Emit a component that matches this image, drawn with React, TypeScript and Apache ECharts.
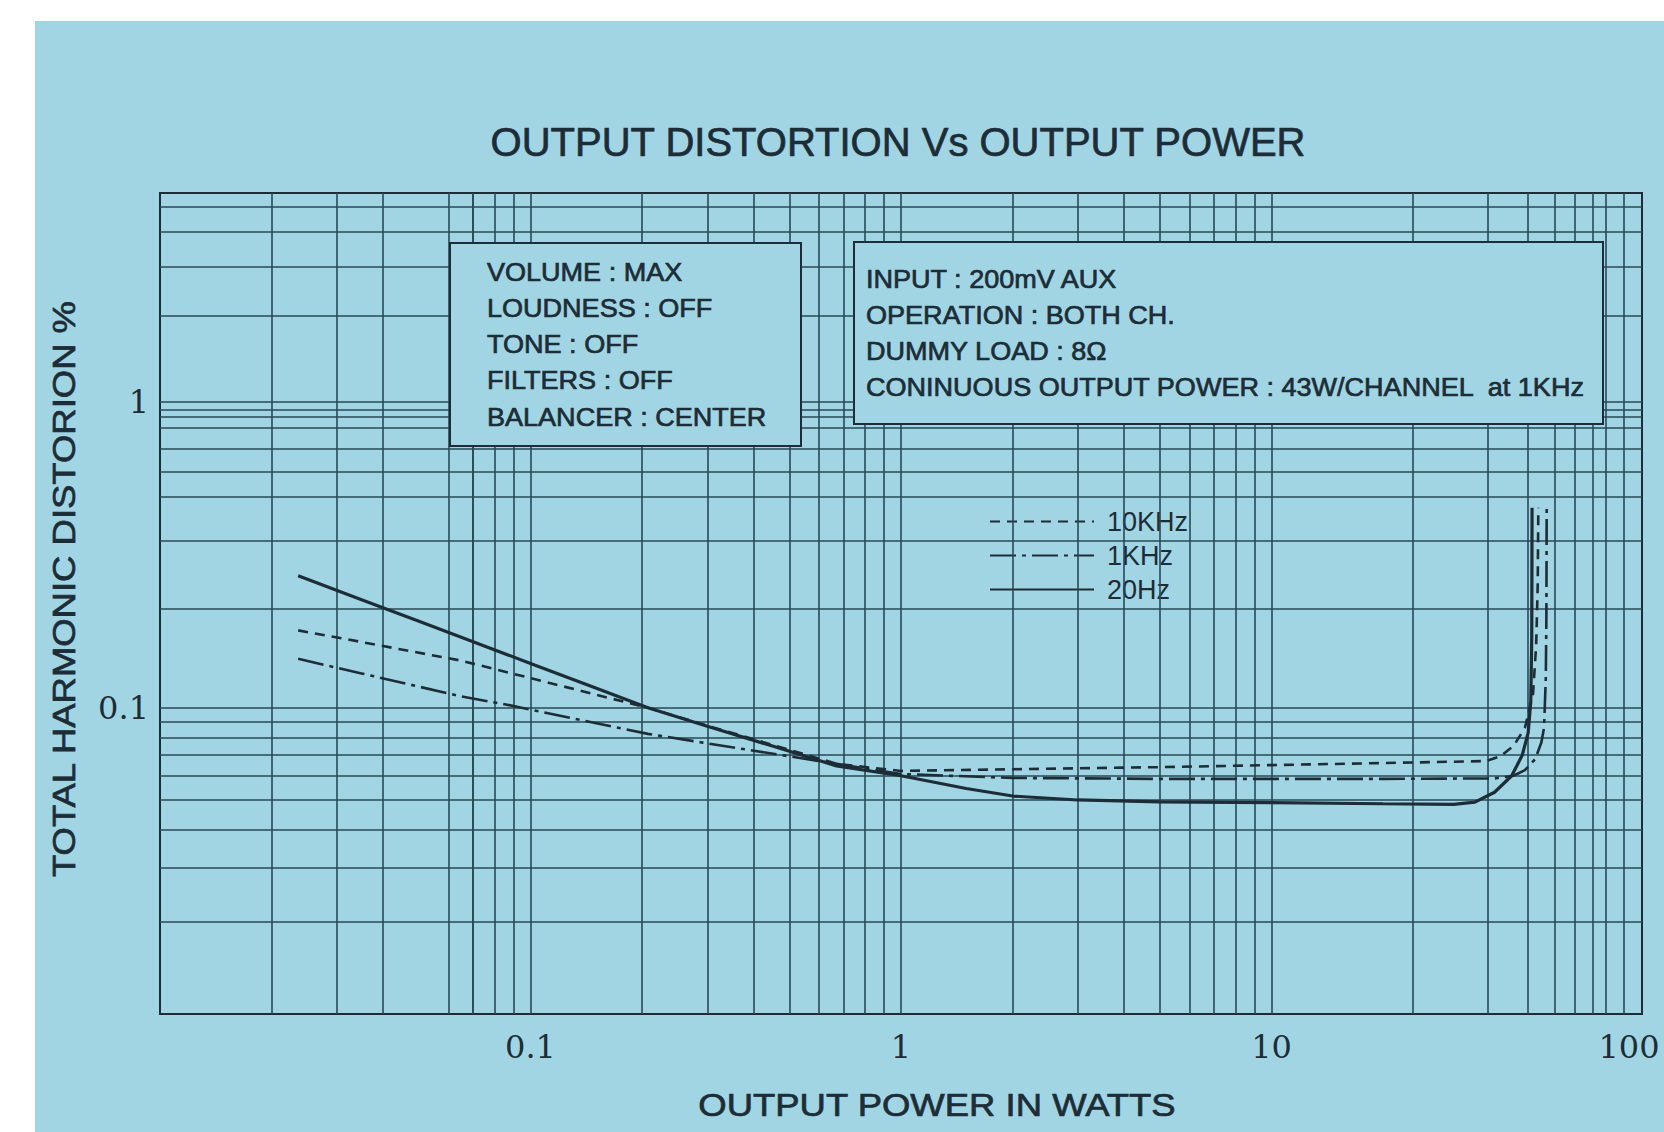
import React, { useEffect, useRef } from "react";
import * as echarts from "echarts";

// ---------- data ----------
const seriesNames = ["10KHz", "1KHz", "20Hz"];

const power10k = [0.0236, 0.035, 0.0649, 0.1, 0.2075, 0.313, 0.45, 0.671, 1, 2, 5, 10, 20, 38, 41.5, 45, 48.3, 50.8, 51.8, 52.3, 52.5];
const thd10k = [0.179, 0.164, 0.1426, 0.125, 0.1, 0.0861, 0.0757, 0.0656, 0.0622, 0.063, 0.064, 0.065, 0.066, 0.067, 0.0695, 0.075, 0.086, 0.111, 0.16, 0.25, 0.45];

const power1k = [0.0236, 0.035, 0.0649, 0.0865, 0.13, 0.2075, 0.35, 0.671, 1, 2, 5, 10, 20, 40, 45, 48.3, 51.5, 53.5, 54.4, 55, 55.2, 55.3];
const thd1k = [0.1445, 0.1295, 0.109, 0.1023, 0.0924, 0.0822, 0.0743, 0.0656, 0.0608, 0.059, 0.0586, 0.0586, 0.0586, 0.0588, 0.06, 0.0626, 0.068, 0.077, 0.086, 0.125, 0.2, 0.45];

const power20 = [0.0236, 0.035, 0.05, 0.07, 0.1, 0.15, 0.2075, 0.3, 0.45, 0.67, 1.0, 1.5, 2.0, 3, 5, 10, 20, 31, 35.4, 40, 44.5, 47.5, 49.3, 50.1, 50.4, 50.5];
const thd20 = [0.27, 0.2255, 0.1916, 0.1644, 0.1396, 0.116, 0.1, 0.0871, 0.075, 0.0646, 0.06, 0.0545, 0.0515, 0.05, 0.0493, 0.049, 0.0486, 0.0484, 0.0492, 0.053, 0.06, 0.07, 0.083, 0.105, 0.17, 0.45];

// printed graph-paper rulings (values on the axes)
const xGridValues = [0.0236, 0.0347, 0.045, 0.0559, 0.0653, 0.074, 0.0828, 0.0908, 0.1, 0.2, 0.3, 0.4, 0.5, 0.6, 0.7, 0.8, 0.9, 1, 2, 3, 4, 5, 6, 7, 8, 9, 10, 24, 38.4, 49.2, 58.3, 65.9, 73.8, 80, 89.4];
const yGridValues = [4.34, 3.59, 2.76, 1.91, 1, 0.942, 0.887, 0.816, 0.702, 0.595, 0.493, 0.346, 0.211, 0.1, 0.09, 0.0798, 0.0708, 0.059, 0.0493, 0.037, 0.0264, 0.0184];

const xTickValues = [0.1, 1, 10, 100];
const xTickLabels = ["0.1", "1", "10", "100"];
const yTickValues = [0.1, 1];
const yTickLabels = ["0.1", "1"];

const titleText = "OUTPUT DISTORTION Vs OUTPUT POWER";
const xAxisTitle = "OUTPUT POWER IN WATTS";
const yAxisTitle = "TOTAL HARMONIC DISTORION %";
const box1Lines = ["VOLUME : MAX", "LOUDNESS : OFF", "TONE : OFF", "FILTERS : OFF", "BALANCER : CENTER"];
const box2Lines = ["INPUT : 200mV AUX", "OPERATION : BOTH CH.", "DUMMY LOAD : 8Ω", "CONINUOUS OUTPUT POWER : 43W/CHANNEL  at 1KHz"];

// ---------- styles ----------
const BG = "#a2d5e4";
const INK = "#1c2d37";
const GRIDINK = "#284856";
const SANS = "'Liberation Sans', Arial, sans-serif";
const SERIF = "'DejaVu Serif', serif";

function pickLabel(values: number[], labels: string[], edgeIndex: number) {
  return (v: number) => {
    for (let i = 0; i < values.length; i++) {
      if (Math.abs(Math.log10(v) - Math.log10(values[i])) < 1e-6) {
        return i === edgeIndex ? `{edge|${labels[i]}}` : labels[i];
      }
    }
    return "";
  };
}

export default function App() {
  const ref = useRef<HTMLDivElement>(null);

  useEffect(() => {
    if (!ref.current) return;
    const chart = echarts.init(ref.current, undefined, { renderer: "svg" });

    const zip = (xs: number[], ys: number[]) => xs.map((x, i) => [x, ys[i]]);

    const gridLineStyle = { color: GRIDINK, width: 1.6, type: "solid" as const };

    const inkText = (text: string, fontSize: number, align: string) => ({
      text,
      fontSize,
      fontFamily: SANS,
      fill: INK,
      stroke: INK,
      lineWidth: 0.7,
      align,
      verticalAlign: "middle",
    });

    const boxText = (lines: string[], x: number, y0: number, gap: number) =>
      lines.map((t, i) => ({
        type: "text",
        x,
        y: y0 + i * gap,
        scaleX: 1.04,
        z: 60,
        silent: true,
        style: inkText(t, 26, "left"),
      }));

    const curveCommon = {
      type: "line",
      symbol: "none",
      smooth: false,
      z: 5,
      itemStyle: { color: INK },
    };

    const option: any = {
      animation: false,
      backgroundColor: "#ffffff",
      grid: {
        left: 160,
        right: 22,
        top: 193,
        bottom: 118,
        show: true,
        borderColor: INK,
        borderWidth: 2,
        backgroundColor: "transparent",
        containLabel: false,
        outerBoundsMode: "none",
      },
      xAxis: {
        type: "log",
        logBase: 10,
        min: 0.01,
        max: 100,
        axisLine: { show: false },
        axisTick: { show: false },
        splitLine: { show: false },
        axisLabel: {
          margin: 17,
          fontSize: 32,
          fontFamily: SERIF,
          color: INK,
          hideOverlap: false,
          formatter: pickLabel(xTickValues, xTickLabels, xTickValues.length - 1),
          rich: {
            edge: { fontSize: 32, fontFamily: SERIF, color: INK, padding: [0, 26, 0, 0] },
          },
        },
      },
      yAxis: {
        type: "log",
        logBase: 10,
        min: 0.01,
        max: 4.8,
        axisLine: { show: false },
        axisTick: { show: false },
        splitLine: { show: false },
        axisLabel: {
          margin: 11,
          fontSize: 32,
          fontFamily: SERIF,
          color: INK,
          formatter: pickLabel(yTickValues, yTickLabels, -1),
        },
      },
      legend: {
        orient: "vertical",
        left: 984,
        top: 503,
        itemWidth: 104,
        itemHeight: 14,
        itemGap: 7,
        data: seriesNames,
        itemStyle: { opacity: 0 },
        textStyle: { fontSize: 27, fontFamily: SANS, color: INK, padding: [0, 0, 0, 8] },
        selectedMode: false,
      },
      series: [
        {
          name: "grid-rulings",
          type: "line",
          data: [[0.01, 0.01]],
          symbol: "none",
          lineStyle: { width: 0 },
          z: 1,
          silent: true,
          markLine: {
            silent: true,
            symbol: ["none", "none"],
            label: { show: false },
            lineStyle: gridLineStyle,
            emphasis: { disabled: true },
            data: [
              ...xGridValues.map((v) => ({ xAxis: v })),
              ...yGridValues.map((v) => ({ yAxis: v })),
            ],
          },
        },
        {
          ...curveCommon,
          name: seriesNames[0],
          data: zip(power10k, thd10k),
          lineStyle: { color: INK, width: 2.6, type: [10, 7] },
        },
        {
          ...curveCommon,
          name: seriesNames[1],
          data: zip(power1k, thd1k),
          lineStyle: { color: INK, width: 2.6, type: [26, 6, 4, 6] },
        },
        {
          ...curveCommon,
          name: seriesNames[2],
          data: zip(power20, thd20),
          lineStyle: { color: INK, width: 3.2, type: "solid" },
        },
      ],
      graphic: [
        {
          type: "rect",
          z: -100,
          silent: true,
          shape: { x: 35, y: 21, width: 1629, height: 1111 },
          style: { fill: BG },
        },
        {
          type: "text",
          x: 898,
          y: 142,
          silent: true,
          style: inkText(titleText, 40, "center"),
        },
        {
          type: "text",
          x: 937,
          y: 1105,
          scaleX: 1.14,
          silent: true,
          style: inkText(xAxisTitle, 32, "center"),
        },
        {
          type: "text",
          x: 64,
          y: 589,
          rotation: Math.PI / 2,
          scaleX: 1.14,
          silent: true,
          style: inkText(yAxisTitle, 32, "center"),
        },
        {
          type: "rect",
          z: 50,
          silent: true,
          shape: { x: 450, y: 243, width: 351, height: 203 },
          style: { fill: BG, stroke: INK, lineWidth: 2 },
        },
        ...boxText(box1Lines, 487, 272, 36.2),
        {
          type: "rect",
          z: 50,
          silent: true,
          shape: { x: 854, y: 242, width: 749, height: 182 },
          style: { fill: BG, stroke: INK, lineWidth: 2 },
        },
        ...boxText(box2Lines, 866, 279, 36),
      ],
    };

    chart.setOption(option);
    return () => chart.dispose();
  }, []);

  return (
    <div
      ref={ref}
      style={{ position: "fixed", left: 0, top: 0, width: 1664, height: 1132 }}
    />
  );
}
